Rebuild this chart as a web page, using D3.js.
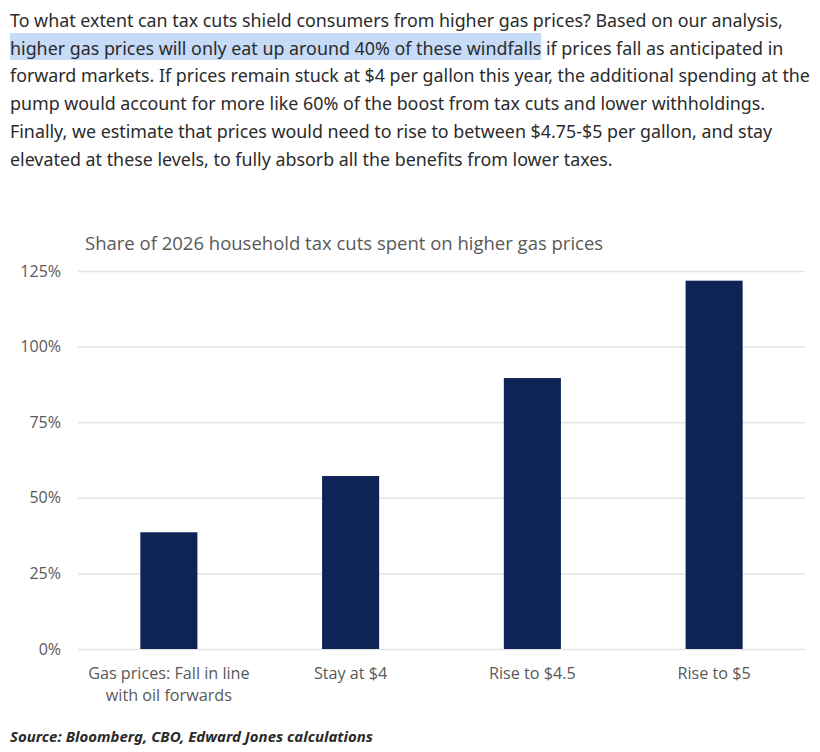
<!DOCTYPE html>
<html>
<head>
<meta charset="utf-8">
<script src="https://cdn.jsdelivr.net/npm/d3@7"></script>
<style>
  body { margin: 0; background: #fff; }
</style>
</head>
<body>
<div id="chart"></div>
<script>
const WIDTH = 820
const HEIGHT = 752

const paragraphLines = [
    "To what extent can tax cuts shield consumers from higher gas prices? Based on our analysis,",
    "higher gas prices will only eat up around 40% of these windfalls if prices fall as anticipated in",
    "forward markets. If prices remain stuck at $4 per gallon this year, the additional spending at the",
    "pump would account for more like 60% of the boost from tax cuts and lower withholdings.",
    "Finally, we estimate that prices would need to rise to between $4.75-$5 per gallon, and stay",
    "elevated at these levels, to fully absorb all the benefits from lower taxes."
]
const highlighted = "higher gas prices will only eat up around 40% of these windfalls"

const chartTitle = "Share of 2026 household tax cuts spent on higher gas prices"
const categories = ["Gas prices: Fall in line\nwith oil forwards", "Stay at $4", "Rise to $4.5", "Rise to $5"]
const values = [38.6, 57.2, 89.6, 121.8]
const yTicks = [0, 25, 50, 75, 100, 125]
const sourceText = "Source: Bloomberg, CBO, Edward Jones calculations"

const MARGIN = { TOP: 271, BOTTOM: 103, LEFT: 78, RIGHT: 15 }

const svg = d3.select("#chart")
    .append("svg")
    .attr("width", WIDTH)
    .attr("height", HEIGHT)

// paragraph with highlight
const para = svg.append("g")
    .attr("font-family", "'Noto Sans', sans-serif")
    .attr("font-size", 17.85)
    .attr("fill", "#2b2b2b")

const lineTexts = para.selectAll("text")
    .data(paragraphLines)
    .join("text")
    .attr("x", 10)
    .attr("y", (d, i) => 27 + i * 27.7)
    .text(d => d)

const hlNode = lineTexts.nodes()[1]
const hlWidth = hlNode.getSubStringLength(0, highlighted.length)
para.insert("rect", "text")
    .attr("x", 10)
    .attr("y", 33)
    .attr("width", hlWidth)
    .attr("height", 27)
    .attr("fill", "#c6dbf7")

// chart
const x = d3.scaleBand()
    .domain(categories)
    .range([MARGIN.LEFT, WIDTH - MARGIN.RIGHT])
    .paddingInner(0.686)
    .paddingOuter(0.343)

const y = d3.scaleLinear()
    .domain([0, 125])
    .range([HEIGHT - MARGIN.BOTTOM, MARGIN.TOP])

svg.append("text")
    .attr("x", 85)
    .attr("y", 250)
    .attr("font-family", "'Open Sans', sans-serif")
    .attr("font-size", 18.5)
    .attr("fill", "#595959")
    .text(chartTitle)

const yAxis = svg.append("g")
    .attr("transform", `translate(${MARGIN.LEFT},0)`)
    .call(d3.axisLeft(y)
        .tickValues(yTicks)
        .tickSize(-(WIDTH - MARGIN.LEFT - MARGIN.RIGHT))
        .tickPadding(17)
        .tickFormat(d => d + "%"))

yAxis.select(".domain").remove()
yAxis.selectAll(".tick line")
    .attr("stroke", "#e3e3e3")
    .attr("stroke-width", 1.5)
yAxis.selectAll(".tick text")
    .attr("font-family", "'Open Sans', sans-serif")
    .attr("font-size", 16)
    .attr("fill", "#595959")

svg.append("g")
    .selectAll("rect")
    .data(values)
    .join("rect")
    .attr("x", (d, i) => x(categories[i]))
    .attr("y", d => y(d))
    .attr("width", x.bandwidth())
    .attr("height", d => y(0) - y(d))
    .attr("fill", "#0e2457")

svg.append("g")
    .attr("font-family", "'Open Sans', sans-serif")
    .attr("font-size", 16.2)
    .attr("fill", "#595959")
    .attr("text-anchor", "middle")
    .selectAll("text")
    .data(categories)
    .join("text")
    .attr("x", d => x(d) + x.bandwidth() / 2)
    .attr("y", 679)
    .selectAll("tspan")
    .data(d => d.split("\n"))
    .join("tspan")
    .attr("x", function () { return d3.select(this.parentNode).attr("x") })
    .attr("dy", (d, i) => i === 0 ? 0 : 22)
    .text(d => d)

svg.append("text")
    .attr("x", 10)
    .attr("y", 742)
    .attr("font-family", "'Noto Sans', sans-serif")
    .attr("font-size", 15)
    .attr("font-weight", "bold")
    .attr("font-style", "italic")
    .attr("fill", "#2b2b2b")
    .text(sourceText)
</script>
</body>
</html>
